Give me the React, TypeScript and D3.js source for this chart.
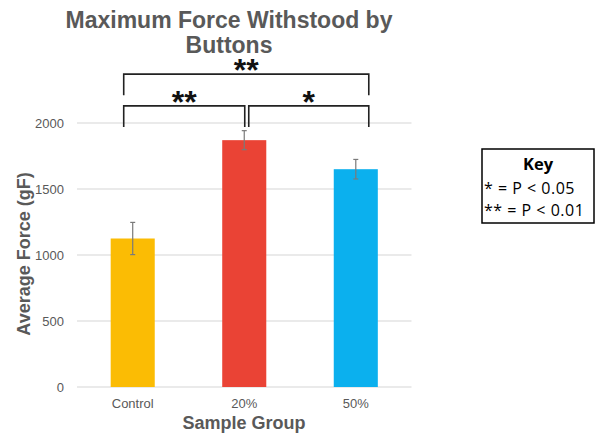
import React, { useEffect, useRef } from 'react';
import * as d3 from 'd3';

const categories = ['Control', '20%', '50%'];
const means = [1125, 1870, 1650];
const errors = [122, 72, 74];
const colors = ['#FBBC04', '#EA4335', '#0BB0EE'];
const yTicks = [0, 500, 1000, 1500, 2000];

// significance brackets: from/to category index, top & leg-bottom values
const brackets = [
  { from: 0, to: 2, top: 2370, bottom: 2210, label: '**', dxFrom: -9, dxTo: 13 },
  { from: 0, to: 1, top: 2130, bottom: 1970, label: '**', dxFrom: -9, dxTo: 0.5 },
  { from: 1, to: 2, top: 2130, bottom: 1970, label: '*', dxFrom: 4.5, dxTo: 13 },
];

const keyLines = ['* = P < 0.05', '** = P < 0.01'];

const W = 606;
const H = 435;

function App() {
  const ref = useRef<SVGSVGElement>(null);

  useEffect(() => {
    const svg = d3.select(ref.current);
    svg.selectAll('*').remove();

    const font = "'Liberation Sans', Arial, sans-serif";
    const grey = '#595959';

    const x = d3.scaleBand().domain(categories).range([77, 411.5]).paddingInner(0.605).paddingOuter(0.302);
    const y = d3.scaleLinear().domain([0, 2000]).range([387, 123]);
    const bw = x.bandwidth();
    const cx = (i: number) => (x(categories[i]) as number) + bw / 2;

    // gridlines
    svg.append('g')
      .selectAll('line')
      .data(yTicks)
      .join('line')
      .attr('x1', 77)
      .attr('x2', 411.5)
      .attr('y1', d => y(d))
      .attr('y2', d => y(d))
      .attr('stroke', '#e3e3e3')
      .attr('stroke-width', 1.3);

    // y tick labels
    svg.append('g')
      .selectAll('text')
      .data(yTicks)
      .join('text')
      .attr('x', 64)
      .attr('y', d => y(d))
      .attr('dy', '0.35em')
      .attr('text-anchor', 'end')
      .attr('font-family', font)
      .attr('font-size', 13)
      .attr('fill', grey)
      .text(d => d);

    // bars
    svg.append('g')
      .selectAll('rect')
      .data(means)
      .join('rect')
      .attr('x', (d, i) => x(categories[i]) as number)
      .attr('y', d => y(d))
      .attr('width', bw)
      .attr('height', d => y(0) - y(d))
      .attr('fill', (d, i) => colors[i]);

    // error bars
    const eb = svg.append('g').attr('stroke', '#7a7a7a').attr('stroke-width', 1.2);
    means.forEach((m, i) => {
      const c = cx(i);
      eb.append('line').attr('x1', c).attr('x2', c).attr('y1', y(m - errors[i])).attr('y2', y(m + errors[i]));
      eb.append('line').attr('x1', c - 2.5).attr('x2', c + 2.5).attr('y1', y(m - errors[i])).attr('y2', y(m - errors[i]));
      eb.append('line').attr('x1', c - 2.5).attr('x2', c + 2.5).attr('y1', y(m + errors[i])).attr('y2', y(m + errors[i]));
    });

    // x tick labels
    svg.append('g')
      .selectAll('text')
      .data(categories)
      .join('text')
      .attr('x', (d, i) => cx(i))
      .attr('y', 408)
      .attr('text-anchor', 'middle')
      .attr('font-family', font)
      .attr('font-size', 13)
      .attr('fill', grey)
      .text(d => d);

    // title
    const title = svg.append('text')
      .attr('text-anchor', 'middle')
      .attr('font-family', font)
      .attr('font-weight', 'bold')
      .attr('font-size', 23)
      .attr('fill', grey);
    title.append('tspan').attr('x', 229).attr('y', 28).text('Maximum Force Withstood by');
    title.append('tspan').attr('x', 229).attr('y', 53).text('Buttons');

    // significance brackets
    const bg = svg.append('g');
    brackets.forEach(b => {
      const x1 = cx(b.from) + b.dxFrom;
      const x2 = cx(b.to) + b.dxTo;
      const path = d3.path();
      path.moveTo(x1, y(b.bottom));
      path.lineTo(x1, y(b.top));
      path.lineTo(x2, y(b.top));
      path.lineTo(x2, y(b.bottom));
      bg.append('path')
        .attr('d', path.toString())
        .attr('fill', 'none')
        .attr('stroke', '#222')
        .attr('stroke-width', 1.6);
      bg.append('text')
        .attr('x', (x1 + x2) / 2)
        .attr('y', y(b.top) + 7)
        .attr('text-anchor', 'middle')
        .attr('font-family', font)
        .attr('font-weight', 'bold')
        .attr('font-size', 32)
        .attr('fill', '#111')
        .text(b.label);
    });

    // axis titles
    svg.append('text')
      .attr('transform', 'translate(30,254) rotate(-90)')
      .attr('text-anchor', 'middle')
      .attr('font-family', font)
      .attr('font-weight', 'bold')
      .attr('font-size', 18)
      .attr('fill', grey)
      .text('Average Force (gF)');

    svg.append('text')
      .attr('x', 244)
      .attr('y', 429)
      .attr('text-anchor', 'middle')
      .attr('font-family', font)
      .attr('font-weight', 'bold')
      .attr('font-size', 18)
      .attr('fill', grey)
      .text('Sample Group');

    // key box
    const key = svg.append('g');
    key.append('rect')
      .attr('x', 482)
      .attr('y', 149)
      .attr('width', 112)
      .attr('height', 74)
      .attr('fill', 'white')
      .attr('stroke', '#000')
      .attr('stroke-width', 1.5);
    key.append('text')
      .attr('x', 538)
      .attr('y', 170)
      .attr('text-anchor', 'middle')
      .attr('font-family', "'Open Sans', sans-serif")
      .attr('font-weight', 'bold')
      .attr('font-size', 16.5)
      .text('Key');
    key.selectAll('text.line')
      .data(keyLines)
      .join('text')
      .attr('class', 'line')
      .attr('x', 484)
      .attr('y', (d, i) => 194 + i * 22)
      .attr('font-family', "'Open Sans', sans-serif")
      .attr('font-size', 16)
      .attr('letter-spacing', 0.5)
      .text(d => d);
  }, []);

  return (
    <svg
      ref={ref}
      width={W}
      height={H}
      style={{ position: 'absolute', left: 0, top: 0, background: 'white' }}
    />
  );
}

export default App;
